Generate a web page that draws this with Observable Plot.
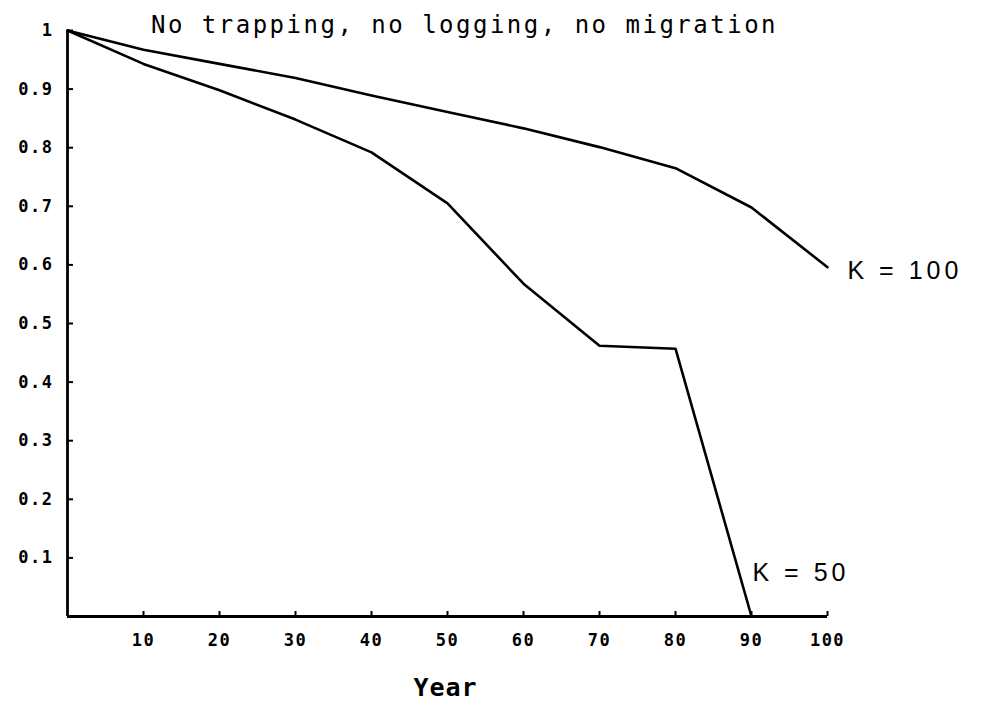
<!DOCTYPE html>
<html>
<head>
<meta charset="utf-8">
<script src="https://cdn.jsdelivr.net/npm/d3@7"></script>
<script src="https://cdn.jsdelivr.net/npm/@observablehq/plot@0.6"></script>
<style>
  html, body { margin: 0; padding: 0; background: #fff; overflow: hidden; }
  #chart svg { display: block; }
</style>
</head>
<body>
<div id="chart"></div>
<script>
const title = "No trapping, no logging, no migration";
const xLabel = "Year";
const years = [0, 10, 20, 30, 40, 50, 60, 70, 80, 90, 100];
const k100Values = [1, 0.967, 0.943, 0.919, 0.889, 0.861, 0.833, 0.801, 0.765, 0.698, 0.596];
const k50Years = [0, 10, 20, 30, 40, 50, 60, 70, 80, 90];
const k50Values = [1, 0.943, 0.898, 0.848, 0.792, 0.705, 0.568, 0.462, 0.457, 0];
const seriesLabels = ["K = 100", "K = 50"];
const xTicks = [10, 20, 30, 40, 50, 60, 70, 80, 90, 100];
const yTicks = [0.1, 0.2, 0.3, 0.4, 0.5, 0.6, 0.7, 0.8, 0.9, 1];

const k100 = years.map((x, i) => ({x, y: k100Values[i]}));
const k50 = k50Years.map((x, i) => ({x, y: k50Values[i]}));

const tickFont = "DejaVu Sans Mono";
const plot = Plot.plot({
  width: 981,
  height: 707,
  marginLeft: 67,
  marginRight: 154,
  marginTop: 30,
  marginBottom: 91,
  style: {background: "#fff", color: "#000", fontFamily: tickFont, fontWeight: "bold", fontSize: "16px"},
  x: {domain: [0, 100]},
  y: {domain: [0, 1]},
  marks: [
    Plot.ruleX([0], {strokeWidth: 2.8, stroke: "#000"}),
    Plot.ruleY([0], {strokeWidth: 2.8, stroke: "#000"}),
    Plot.axisY({ticks: yTicks, tickSize: -6, strokeWidth: 2, tickFormat: () => "", label: null}),
    Plot.axisY({ticks: yTicks, tickSize: 0, tickPadding: 14, label: null,
      tickFormat: d => d === 1 ? "1" : d3.format(".1f")(d), fontSize: 17, fontWeight: "bold"}),
    Plot.axisX({ticks: xTicks, tickSize: -5, strokeWidth: 2, tickFormat: () => "", label: null}),
    Plot.axisX({ticks: xTicks, tickSize: 0, tickPadding: 17, label: null, fontSize: 17, fontWeight: "bold"}),
    Plot.line(k100, {x: "x", y: "y", stroke: "#000", strokeWidth: 2.6}),
    Plot.line(k50, {x: "x", y: "y", stroke: "#000", strokeWidth: 2.6}),
    Plot.text([k100[k100.length - 1]], {x: "x", y: "y", text: () => seriesLabels[0], textAnchor: "start", dx: 20, dy: 4,
      fontFamily: "Liberation Sans", fontWeight: "normal", fontSize: 25}),
    Plot.text([k50[k50.length - 1]], {x: "x", y: "y", text: () => seriesLabels[1], textAnchor: "start", dx: 1, dy: -44,
      fontFamily: "Liberation Sans", fontWeight: "normal", fontSize: 25}),
    Plot.text([title], {frameAnchor: "top", text: d => d, dx: 17, dy: -5, lineAnchor: "middle",
      fontFamily: tickFont, fontWeight: "normal", fontSize: 24}),
    Plot.text([xLabel], {frameAnchor: "bottom", text: d => d, dx: -2, dy: 79, lineAnchor: "bottom",
      fontFamily: tickFont, fontWeight: "bold", fontSize: 25})
  ]
});
document.getElementById("chart").appendChild(plot);

// letter spacing tweaks to mimic the plotter lettering
plot.querySelectorAll("text").forEach(t => {
  const s = t.textContent;
  if (s === title) t.setAttribute("letter-spacing", "2.5");
  else if (seriesLabels.includes(s)) t.setAttribute("letter-spacing", "4");
  else if (s === xLabel) t.setAttribute("letter-spacing", "1");
  else t.setAttribute("letter-spacing", "1.5");
});
</script>
</body>
</html>
